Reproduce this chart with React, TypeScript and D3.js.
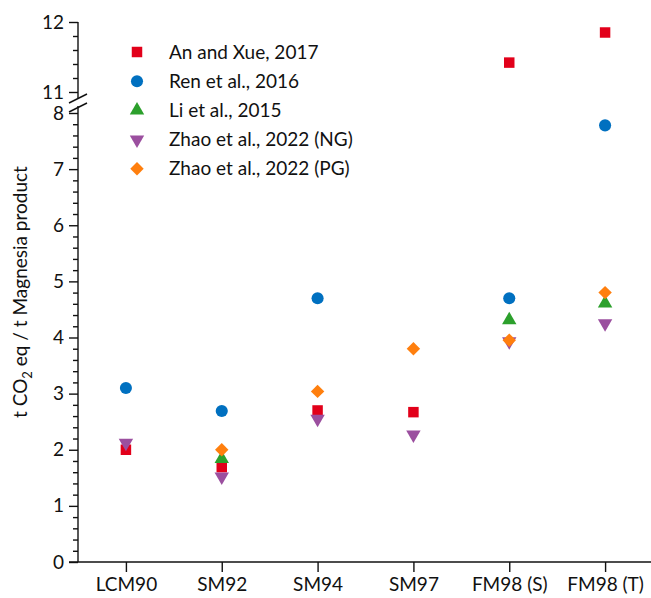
import React, { useEffect, useRef } from "react";
import * as d3 from "d3";

const categories = ["LCM90", "SM92", "SM94", "SM97", "FM98 (S)", "FM98 (T)"];
const seriesNames = [
  "An and Xue, 2017",
  "Ren et al., 2016",
  "Li et al., 2015",
  "Zhao et al., 2022 (NG)",
  "Zhao et al., 2022 (PG)",
];
const anXue = [2.0, 1.69, 2.7, 2.67, 11.42, 11.85];
const ren = [3.1, 2.69, 4.7, null, 4.7, 7.78];
const li = [null, 1.84, null, null, 4.31, 4.61];
const zhaoNG = [2.12, 1.52, 2.55, 2.27, 3.93, 4.25];
const zhaoPG = [null, 2.0, 3.04, 3.8, 3.95, 4.8];
const lowerTicks = [0, 1, 2, 3, 4, 5, 6, 7, 8];
const upperTicks = [11, 12];

const colors = ["#e2001a", "#0070c0", "#2ca02c", "#9b4f9f", "#ff7f0e"];
const font = "Lato, 'Noto Sans', sans-serif";

const App = () => {
  const ref = useRef<SVGSVGElement>(null);

  useEffect(() => {
    const svg = d3.select(ref.current);
    svg.selectAll("*").remove();
    const width = 651;
    const left = 78;
    const bottom = 562;

    const yLow = d3.scaleLinear().domain([0, 8]).range([bottom, 113]);
    const yHigh = d3.scaleLinear().domain([11, 12]).range([92, 22]);
    const yVal = (v: number) => (v >= 11 ? yHigh(v) : yLow(v));
    const x = d3.scalePoint<string>().domain(categories).range([left, 653]).padding(0.5);

    // minor ticks every 0.2
    const minorLow = d3.range(0, 8.001, 0.2).filter((v) => Math.abs(v - Math.round(v)) > 0.01);
    const minorHigh = d3.range(11, 12.001, 0.2).filter((v) => Math.abs(v - Math.round(v)) > 0.01);

    const styleAxis = (g: any) => {
      g.selectAll("path, line").attr("stroke", "#111").attr("stroke-width", 1.4);
      g.selectAll("text")
        .attr("fill", "#111")
        .style("font-family", font)
        .style("font-size", "19px");
    };

    // lower y axis
    svg.append("g")
      .attr("transform", `translate(${left},0)`)
      .call(d3.axisLeft(yLow).tickValues(lowerTicks).tickSize(9).tickSizeOuter(0).tickPadding(5).tickFormat(d3.format("d")))
      .call(styleAxis)
      .select(".domain")
      .attr("d", `M0,${bottom}V106`);
    svg.append("g")
      .attr("transform", `translate(${left},0)`)
      .call(d3.axisLeft(yLow).tickValues(minorLow).tickSize(5).tickFormat(() => ""))
      .call(styleAxis)
      .select(".domain").remove();

    // upper y axis
    svg.append("g")
      .attr("transform", `translate(${left},0)`)
      .call(d3.axisLeft(yHigh).tickValues(upperTicks).tickSize(9).tickSizeOuter(0).tickPadding(5).tickFormat(d3.format("d")))
      .call(styleAxis)
      .select(".domain")
      .attr("d", `M0,22V98`);
    svg.append("g")
      .attr("transform", `translate(${left},0)`)
      .call(d3.axisLeft(yHigh).tickValues(minorHigh).tickSize(5).tickFormat(() => ""))
      .call(styleAxis)
      .select(".domain").remove();

    // break marks
    const brk = svg.append("g").attr("stroke", "#111").attr("stroke-width", 1.4);
    brk.append("line").attr("x1", left - 9).attr("y1", 103).attr("x2", left + 9).attr("y2", 94);
    brk.append("line").attr("x1", left - 9).attr("y1", 112).attr("x2", left + 9).attr("y2", 103);

    // x axis
    svg.append("g")
      .attr("transform", `translate(0,${bottom})`)
      .call(d3.axisBottom(x).tickSize(10).tickSizeOuter(0).tickPadding(6))
      .call(styleAxis)
      .select(".domain")
      .attr("d", `M${left - 9},0H${width}`);

    // y label
    const yl = svg.append("text")
      .attr("transform", `translate(27,${292}) rotate(-90)`)
      .attr("text-anchor", "middle")
      .style("font-family", font)
      .style("font-size", "19px")
      .attr("fill", "#111");
    yl.append("tspan").text("t CO");
    yl.append("tspan").text("2").attr("dy", 5).style("font-size", "13px");
    yl.append("tspan").text(" eq / t Magnesia product").attr("dy", -5);

    const symbols = [
      { type: d3.symbolSquare, size: 110, rot: 0 },
      { type: d3.symbolCircle, size: 115, rot: 0 },
      { type: d3.symbolTriangle, size: 90, rot: 0 },
      { type: d3.symbolTriangle, size: 90, rot: 180 },
      { type: d3.symbolSquare, size: 90, rot: 45 },
    ];
    const allSeries = [anXue, ren, li, zhaoNG, zhaoPG];

    allSeries.forEach((vals, si) => {
      const s = symbols[si];
      const pts = vals
        .map((v, i) => ({ v, c: categories[i] }))
        .filter((d) => d.v !== null);
      svg.append("g")
        .selectAll("path")
        .data(pts)
        .enter()
        .append("path")
        .attr("d", d3.symbol().type(s.type).size(s.size)())
        .attr("transform", (d: any) => `translate(${x(d.c)},${yVal(d.v)}) rotate(${s.rot})`)
        .attr("fill", colors[si]);
    });

    // legend
    const legend = svg.append("g").attr("transform", "translate(137,52)");
    seriesNames.forEach((name, i) => {
      const s = symbols[i];
      const row = legend.append("g").attr("transform", `translate(0,${i * 29.2})`);
      row.append("path")
        .attr("d", d3.symbol().type(s.type).size(s.size)())
        .attr("transform", `rotate(${s.rot})`)
        .attr("fill", colors[i]);
      row.append("text")
        .attr("x", 32)
        .attr("dy", "0.35em")
        .text(name)
        .style("font-family", font)
        .style("font-size", "19px")
        .attr("fill", "#111");
    });
  }, []);

  return (
    <svg
      ref={ref}
      width={651}
      height={598}
      style={{ position: "absolute", left: 0, top: 0, background: "#fff" }}
    />
  );
};

export default App;
